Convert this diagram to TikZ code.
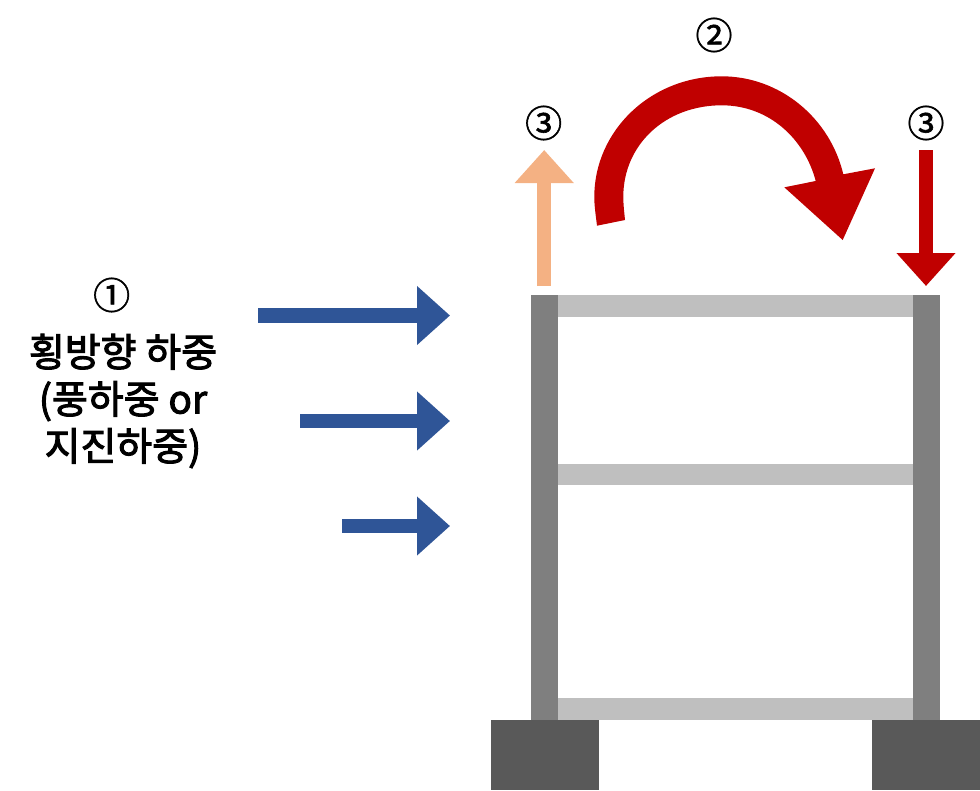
\documentclass[tikz,border=0pt]{standalone}
\usepackage{fontspec}
\usepackage{xcolor}
\usepackage{tikz}
\usetikzlibrary{arrows.meta, positioning}
\setmainfont{Noto Sans CJK KR}
\newfontfamily\korfont[FakeBold=2.6]{Noto Sans CJK KR}
\newfontfamily\numfont[FakeBold=1.6]{Noto Sans CJK KR}
\definecolor{loadblue}{RGB}{47,85,151}
\definecolor{momentred}{RGB}{192,0,0}
\definecolor{liftorange}{RGB}{244,177,131}
\definecolor{columngray}{RGB}{127,127,127}
\definecolor{beamgray}{RGB}{191,191,191}
\definecolor{footgray}{RGB}{89,89,89}

\begin{document}
\begin{tikzpicture}[
  x=1pt, y=-1pt,
  column/.style={rectangle, inner sep=0pt, fill=columngray,
    minimum width=27pt, minimum height=425pt},
  beam/.style={rectangle, inner sep=0pt, fill=beamgray,
    minimum width=355pt, minimum height=21.5pt},
  footing/.style={rectangle, inner sep=0pt, fill=footgray,
    minimum width=108pt, minimum height=70pt},
  num/.style={inner sep=0pt, font=\numfont\fontsize{37}{37}\selectfont},
  title/.style={inner sep=0pt, align=center,
    font=\korfont\fontsize{39}{47}\selectfont},
  wind/.style={-{Triangle[length=33pt, width=57pt]}, line width=14.5pt, loadblue},
  axial/.style={-{Triangle[length=33pt, width=57pt]}, line width=14.5pt}
]
\useasboundingbox (0,0) rectangle (980,790);

% Frame
\node[column] (C1) at (544.5,507.5) {};
\node[column] (C2) at (926.5,507.5) {};
\node[beam] (B1) at (735.5,306) {};
\node[beam] (B2) at (735.5,474.5) {};
\node[beam] (B3) at (735.5,709) {};
\node[footing] (F1) at (545,755) {};
\node[footing] (F2) at (926,755) {};

% Lateral load
\node[num] (N1) at (111.7,295) {①};
\node[title] (T1) at (123,401) {횡방향 하중\\(풍하중 or\\지진하중)};

\coordinate (W1s) at (258,315.5);
\coordinate (W1e) at (450,315.5);
\coordinate (W2s) at (300,421);
\coordinate (W2e) at (450,421);
\coordinate (W3s) at (342,526);
\coordinate (W3e) at (450,526);
\draw[wind] (W1s) -- (W1e);
\draw[wind] (W2s) -- (W2e);
\draw[wind] (W3s) -- (W3e);

% Overturning moment
\node[num] (N2) at (714,35) {②};
\fill[momentred] (597,225.7)
  .. controls (595,210) and (594.3,204) .. (594.3,197)
  .. controls (594.3,130.5) and (651,76.3) .. (721.7,76.3)
  .. controls (780,76.3) and (830,118) .. (843.3,174.3)
  -- (875,168.3) -- (842.7,240) -- (784.3,187.3) -- (815.7,181)
  .. controls (805,140) and (770,105.3) .. (721.7,105.3)
  .. controls (665,105.3) and (623.3,145) .. (623.3,196.7)
  .. controls (623.3,204) and (624,210) .. (625,220) -- cycle;

% Axial forces
\node[num] (N3) at (543.7,123) {③};
\node[num] (N4) at (926,123) {③};
\coordinate (U1s) at (544.2,286);
\coordinate (U1e) at (544.2,150);
\coordinate (D1s) at (926,150);
\coordinate (D1e) at (926,286);
\draw[axial, liftorange] (U1s) -- (U1e);
\draw[axial, momentred] (D1s) -- (D1e);
\end{tikzpicture}
\end{document}
